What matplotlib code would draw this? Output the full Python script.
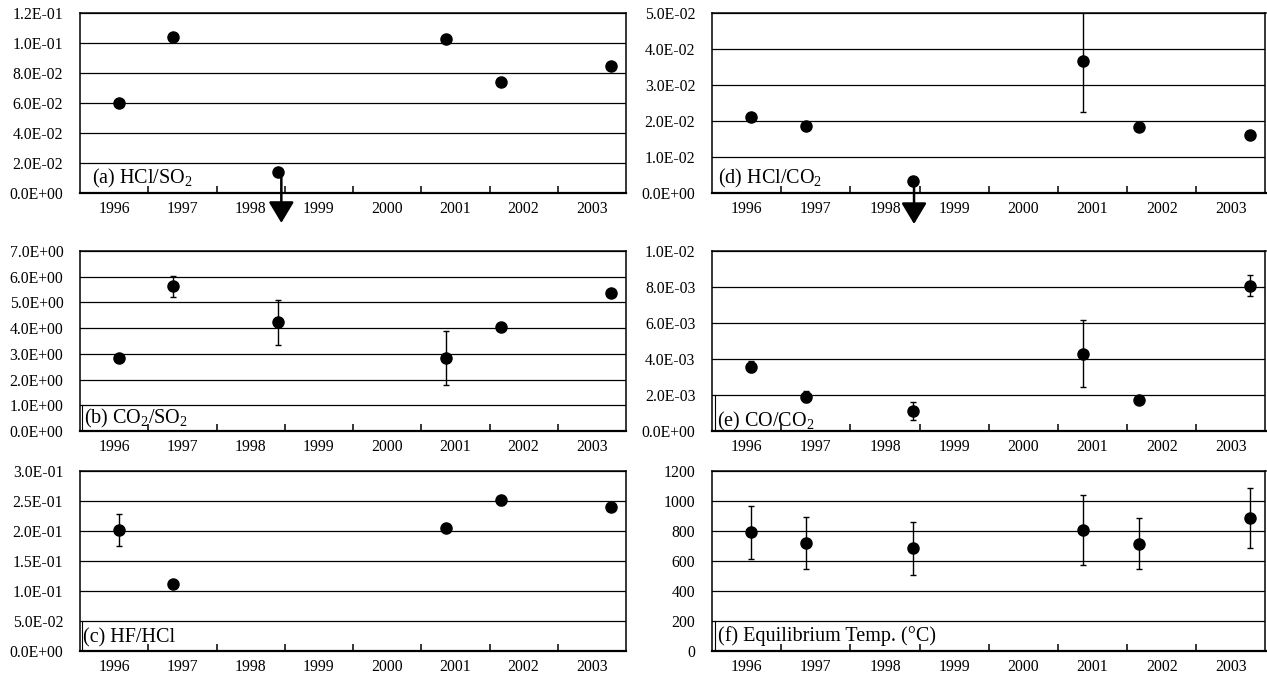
import numpy as np
import matplotlib.pyplot as plt
from matplotlib.ticker import FuncFormatter
from matplotlib.transforms import blended_transform_factory

plt.rcParams['font.family'] = ['Liberation Serif', 'DejaVu Serif']
plt.rcParams['mathtext.fontset'] = 'custom'
plt.rcParams['mathtext.rm'] = 'Liberation Serif'
plt.rcParams['mathtext.it'] = 'Liberation Serif:italic'

# ---- data ----
years = [1996, 1997, 1998, 1999, 2000, 2001, 2002, 2003]
dates = [1996.57, 1997.36, 1998.90, 2001.36, 2002.17, 2003.78]
dates_c = [1996.57, 1997.36, 2001.36, 2002.17, 2003.78]

hcl_so2 = [0.0596, 0.104, 0.014, 0.1025, 0.074, 0.0847]
hcl_so2_err = [0.0015, 0.0015, 0.0, 0.0015, 0.001, 0.001]

co2_so2 = [2.85, 5.62, 4.22, 2.85, 4.03, 5.36]
co2_so2_err = [0.08, 0.40, 0.89, 1.05, 0.12, 0.12]

hf_hcl = [0.201, 0.112, 0.204, 0.2505, 0.239]
hf_hcl_err = [0.027, 0.005, 0.004, 0.008, 0.004]

hcl_co2 = [0.0210, 0.0186, 0.00325, 0.0366, 0.0183, 0.0160]
hcl_co2_err = [0.0008, 0.0007, 0.0, 0.0141, 0.0007, 0.0004]

co_co2 = [0.00357, 0.0019, 0.00113, 0.0043, 0.00174, 0.00807]
co_co2_err = [0.0003, 0.0003, 0.0005, 0.00185, 0.0001, 0.00058]

eq_temp = [790, 720, 684, 808, 715, 886]
eq_temp_err = [176, 171, 176, 233, 171, 200]

# ---- layout (pixels) ----
W, H = 1267, 678
fig = plt.figure(figsize=(W / 100, H / 100), dpi=100)


def rect(x0, x1, top, bottom):
    return [x0 / W, 1 - bottom / H, (x1 - x0) / W, (bottom - top) / H]


sci = FuncFormatter(lambda v, p: f"{v:.1E}")
plain = FuncFormatter(lambda v, p: f"{v:.0f}")


def panel(r, x, y, err, ymax, step, fmt, label, lab_off, boxline=None, arrow=None):
    ax = fig.add_axes(r)
    ax.set_xlim(1996, 2004)
    ax.set_ylim(0, ymax)
    ax.set_yticks(np.arange(0, ymax + step / 2, step))
    ax.yaxis.set_major_formatter(fmt)
    ax.yaxis.grid(True, color='black', lw=0.9)
    ax.set_axisbelow(True)
    ax.tick_params(axis='y', length=0, pad=12, labelsize=11.3)

    ax.set_xticks(range(1997, 2004))
    ax.set_xticks([yr + 0.5 for yr in years], minor=True)
    ax.set_xticklabels([str(yr) for yr in years], minor=True)
    ax.tick_params(axis='x', which='major', direction='in', length=5, width=1.1,
                   labelbottom=False)
    ax.tick_params(axis='x', which='minor', length=0, pad=6, labelsize=11.3)

    for s in ax.spines.values():
        s.set_linewidth(1.1)
    ax.spines['bottom'].set_linewidth(1.6)

    ax.errorbar(x, y, yerr=err, fmt='o', color='black', ms=8, capsize=2.5,
                elinewidth=1, capthick=1, zorder=3)

    if arrow is not None:
        ax.annotate('', xy=(arrow[0], arrow[2]), xycoords=('data', 'axes fraction'),
                    xytext=(arrow[0], arrow[1]), textcoords='data',
                    arrowprops=dict(arrowstyle='-|>,head_length=1.0,head_width=0.6',
                                    mutation_scale=13, lw=1.8, color='black',
                                    shrinkA=0, shrinkB=0),
                    annotation_clip=False, zorder=2)

    ax.annotate(label, xy=(0, 0), xycoords='axes fraction', xytext=lab_off,
                textcoords='offset pixels', ha='left', va='baseline', fontsize=14.5)

    if boxline is not None:
        tr = blended_transform_factory(ax.transAxes, ax.transData)
        ax.plot([boxline, boxline], [0, step], color='black', lw=0.8, transform=tr)
    return ax


L0, L1 = 80, 626
R0, R1 = 712, 1265.5
rows = [(12.7, 192.7), (251, 431), (470.7, 651)]

panel(rect(L0, L1, *rows[0]), dates, hcl_so2, hcl_so2_err, 0.12, 0.02, sci,
      r'(a) HCl/SO$_\mathrm{2}$', (11.7, 9.4), arrow=(dates[2] + 0.05, hcl_so2[2], -0.168))
panel(rect(L0, L1, *rows[1]), dates, co2_so2, co2_so2_err, 7.0, 1.0, sci,
      r'(b) CO$_\mathrm{2}$/SO$_\mathrm{2}$', (3.5, 7.7), boxline=2 / 546)
panel(rect(L0, L1, *rows[2]), dates_c, hf_hcl, hf_hcl_err, 0.30, 0.05, sci,
      '(c) HF/HCl', (3.0, 8.3), boxline=2 / 546)

panel(rect(R0, R1, *rows[0]), dates, hcl_co2, hcl_co2_err, 0.05, 0.01, sci,
      r'(d) HCl/CO$_\mathrm{2}$', (5.6, 9.4), arrow=(dates[2] + 0.02, hcl_co2[2], -0.174))
panel(rect(R0, R1, *rows[1]), dates, co_co2, co_co2_err, 0.01, 0.002, sci,
      r'(e) CO/CO$_\mathrm{2}$', (5.5, 4.8), boxline=3.5 / 554)
panel(rect(R0, R1, *rows[2]), dates, eq_temp, eq_temp_err, 1200, 200, plain,
      '(f) Equilibrium Temp. (\u00b0C)', (6.5, 9.6), boxline=3.5 / 554)

fig.savefig('out.png', dpi=100)
